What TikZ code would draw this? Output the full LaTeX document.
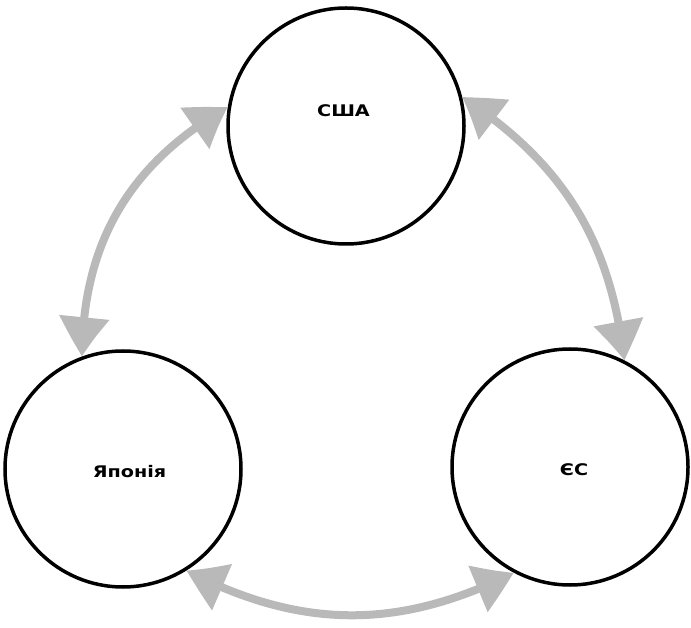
\documentclass[tikz,border=0pt]{standalone}
\usepackage{fontspec}
\setmainfont{DejaVu Sans}
\newfontfamily\widefont{DejaVu Sans}[FakeStretch=1.2]
\usetikzlibrary{arrows.meta,bending}
\begin{document}
\begin{tikzpicture}[x=1pt,y=-1pt,
	land/.style={circle,draw,line width=3.5pt,minimum size=236pt,inner sep=0pt},
	tag/.style={font=\widefont\fontsize{16}{19}\selectfont\bfseries},
	link/.style={draw=gray!55,line width=8pt,{Triangle[width=48pt,length=40pt,bend]}-{Triangle[width=48pt,length=40pt,bend]}}]
	\useasboundingbox (0,0) rectangle (691,628);
	\node[land] (usa) at (346,126){};
	\node[land] (jap) at (123,469){};
	\node[land] (eu) at (570,467){};
	\node[tag] (usat) at (343.5,111){США};
	\node[tag] (japt) at (129.5,472){Японія};
	\node[tag] (eut) at (574,469.5){ЄС};
	% zv'yazky
	\draw[link] (jap.110) to[bend left=30] (usa.171);
	\draw[link] (usa.14) to[bend left=25] (eu.63);
	\draw[link] (eu.-118) to[bend left=27] (jap.-58);
\end{tikzpicture}
\end{document}
